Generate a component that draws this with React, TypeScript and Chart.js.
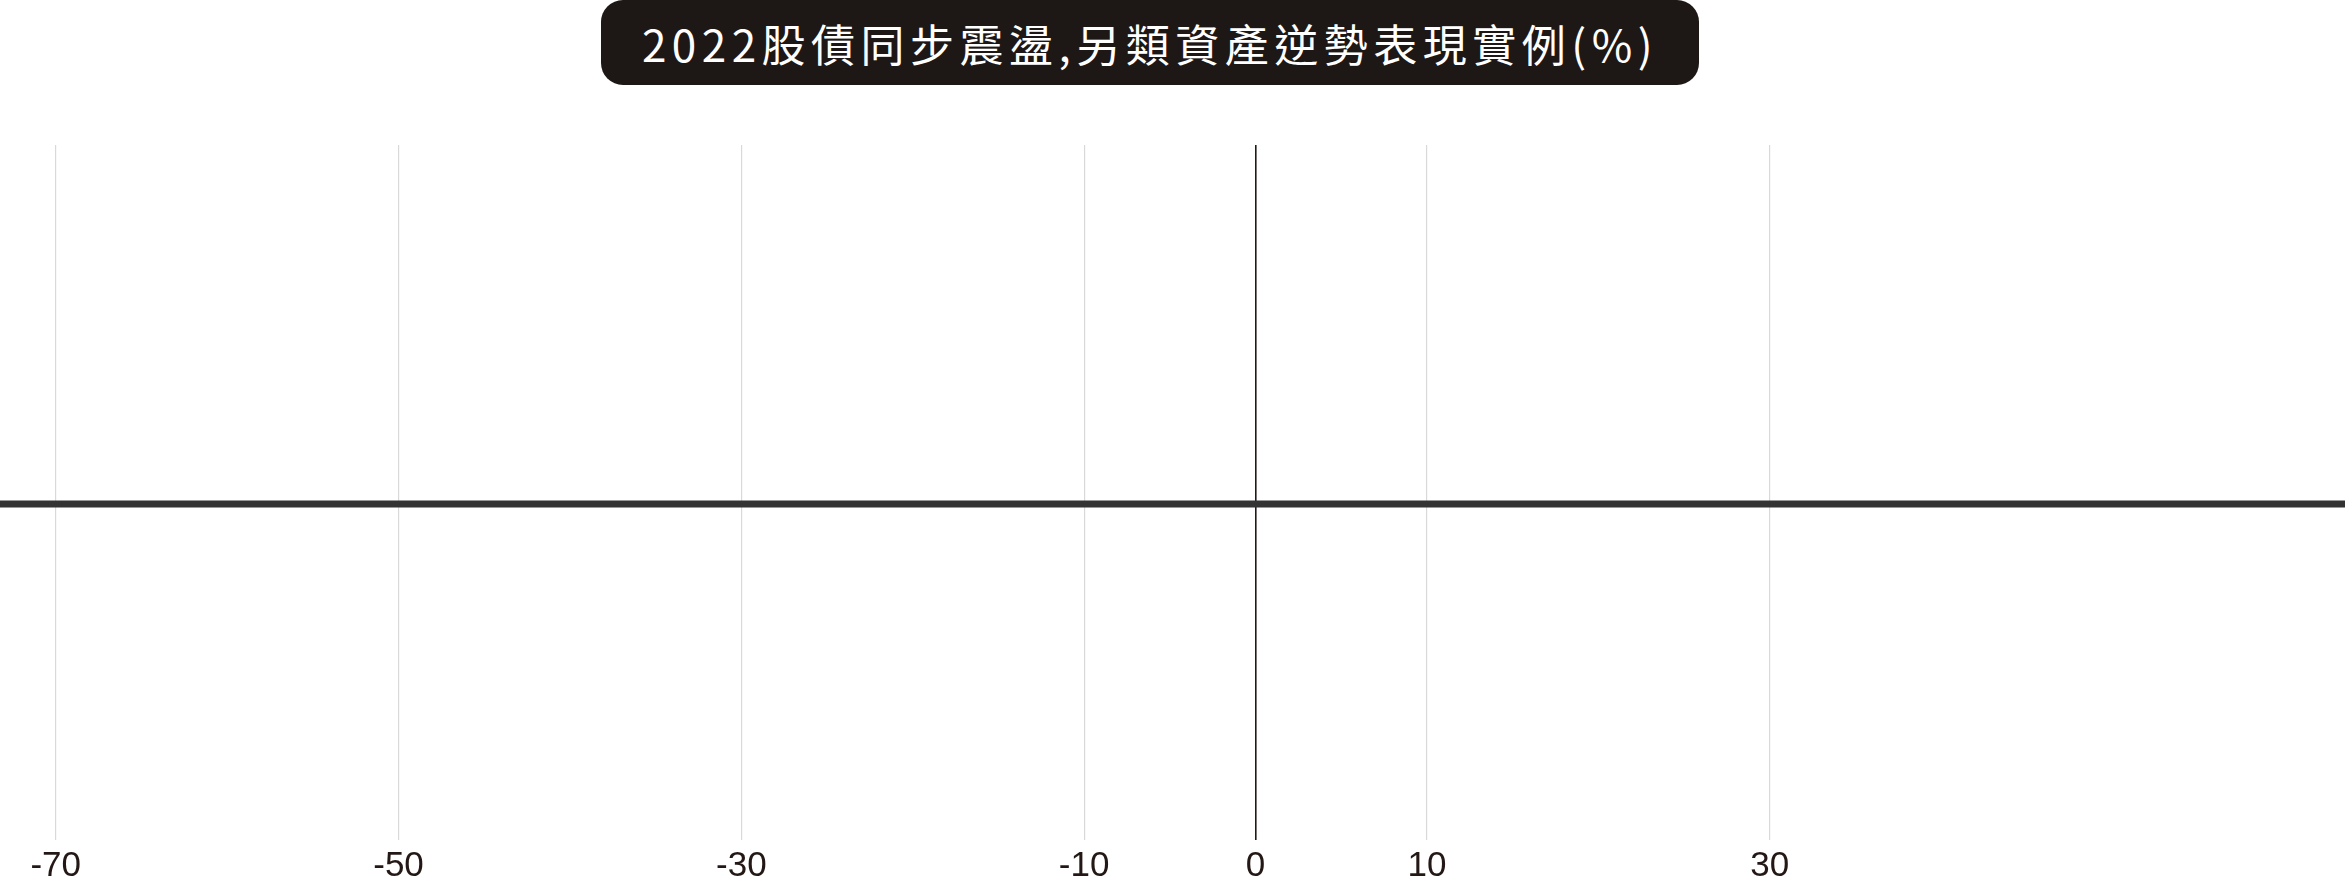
import { useEffect, useRef } from "react";
import { Chart, registerables } from "chart.js";

Chart.register(...registerables);

// x axis (percent)
const tickValues = [-70, -50, -30, -10, 0, 10, 30];
const axisMin = -73.25;
const axisMax = 63.56;

// the dark horizontal baseline across the chart
const baselineX = [-73.25, 63.56];
const baselineY = [0, 0];

const titleText = "2022股債同步震盪,另類資產逆勢表現實例(%)";

export default function App() {
  const chartRef = useRef<HTMLCanvasElement>(null);
  const chartInstance = useRef<Chart | null>(null);

  useEffect(() => {
    document.body.style.margin = "0";
    if (!chartRef.current) return;
    if (chartInstance.current) chartInstance.current.destroy();

    const ctx = chartRef.current.getContext("2d");
    if (!ctx) return;

    chartInstance.current = new Chart(ctx, {
      type: "scatter",
      data: {
        datasets: [
          {
            label: "baseline",
            data: baselineX.map((x, i) => ({ x, y: baselineY[i] })),
            showLine: true,
            borderColor: "#333333",
            borderWidth: 7,
            pointRadius: 0,
            clip: false
          }
        ]
      },
      options: {
        responsive: true,
        maintainAspectRatio: false,
        animation: false,
        layout: { padding: { top: 145, left: 0, right: 0, bottom: 0 } },
        plugins: {
          legend: { display: false },
          tooltip: { enabled: false },
          title: { display: false }
        },
        scales: {
          x: {
            type: "linear",
            min: axisMin,
            max: axisMax,
            z: 1,
            afterBuildTicks: (axis) => {
              axis.ticks = tickValues.map((value) => ({ value }));
            },
            afterFit: (axis) => {
              axis.height = 41;
            },
            border: { display: false },
            grid: {
              drawTicks: false,
              color: (c) => (c.tick && c.tick.value === 0 ? "#231815" : "#d9d9d9"),
              lineWidth: (c) => (c.tick && c.tick.value === 0 ? 1.6 : 1.2)
            },
            ticks: {
              autoSkip: false,
              maxRotation: 0,
              padding: 9,
              color: "#231815",
              font: { family: "'Liberation Sans', Arial, sans-serif", size: 35, lineHeight: 1 },
              callback: (value) => String(value)
            }
          },
          y: {
            display: false,
            min: -1,
            max: 1.068
          }
        }
      }
    });

    return () => {
      if (chartInstance.current) {
        chartInstance.current.destroy();
        chartInstance.current = null;
      }
    };
  }, []);

  return (
    <div style={{ position: "relative", width: 2345, height: 881, background: "#ffffff" }}>
      <canvas ref={chartRef} />
      <div
        style={{
          position: "absolute",
          left: 601,
          top: 0,
          width: 1098,
          height: 85,
          background: "#1d1716",
          borderRadius: 22,
          color: "#ffffff",
          fontFamily: "'Noto Sans CJK TC', 'Noto Sans', sans-serif",
          fontSize: 44,
          letterSpacing: 5.5,
          display: "flex",
          alignItems: "center",
          justifyContent: "center",
          whiteSpace: "nowrap"
        }}
      >
        {titleText}
      </div>
    </div>
  );
}
